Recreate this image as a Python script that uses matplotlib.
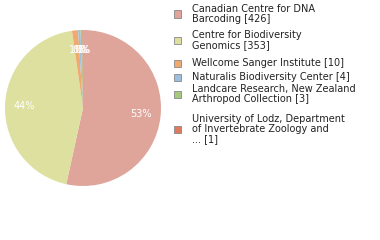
import matplotlib
matplotlib.use("Agg")
import matplotlib.pyplot as plt
from matplotlib.patches import Rectangle

labels = ["Canadian Centre for DNA\nBarcoding [426]",
          "Centre for Biodiversity\nGenomics [353]",
          "Wellcome Sanger Institute [10]",
          "Naturalis Biodiversity Center [4]",
          "Landcare Research, New Zealand\nArthropod Collection [3]",
          "University of Lodz, Department\nof Invertebrate Zoology and\n... [1]"]
counts = [426, 353, 10, 4, 3, 1]
colors = ["#dfa59b", "#dde09f", "#f0aa70", "#9dbfdf", "#a6c97f", "#e07a5f"]

W, H = 380, 240
fig = plt.figure(figsize=(3.8, 2.4), dpi=100)
ax = fig.add_axes([5 / W, (H - 108 - 78) / H, 156 / W, 156 / H])

wedges, texts, autotexts = ax.pie(counts, colors=colors, startangle=90, counterclock=False,
                                  autopct=lambda p: "%d%%" % int(p), pctdistance=0.75,
                                  textprops=dict(color="white", fontsize=7))
ax.set_xlim(-1, 1)
ax.set_ylim(-1, 1)
ax.set_aspect("equal")

# legend, placed by hand
legend_y = [14, 40, 63, 77, 94, 129]
for lab, col, y in zip(labels, colors, legend_y):
    fig.patches.append(Rectangle((174 / W, 1 - (y + 3.5) / H), 7 / W, 7 / H,
                                 transform=fig.transFigure, facecolor=col,
                                 edgecolor="#888888", linewidth=0.6))
    fig.text(192 / W, 1 - y / H, lab, fontsize=7, va="center", ha="left",
             color="#222222", linespacing=1.05)

fig.savefig("out.png", dpi=100)
